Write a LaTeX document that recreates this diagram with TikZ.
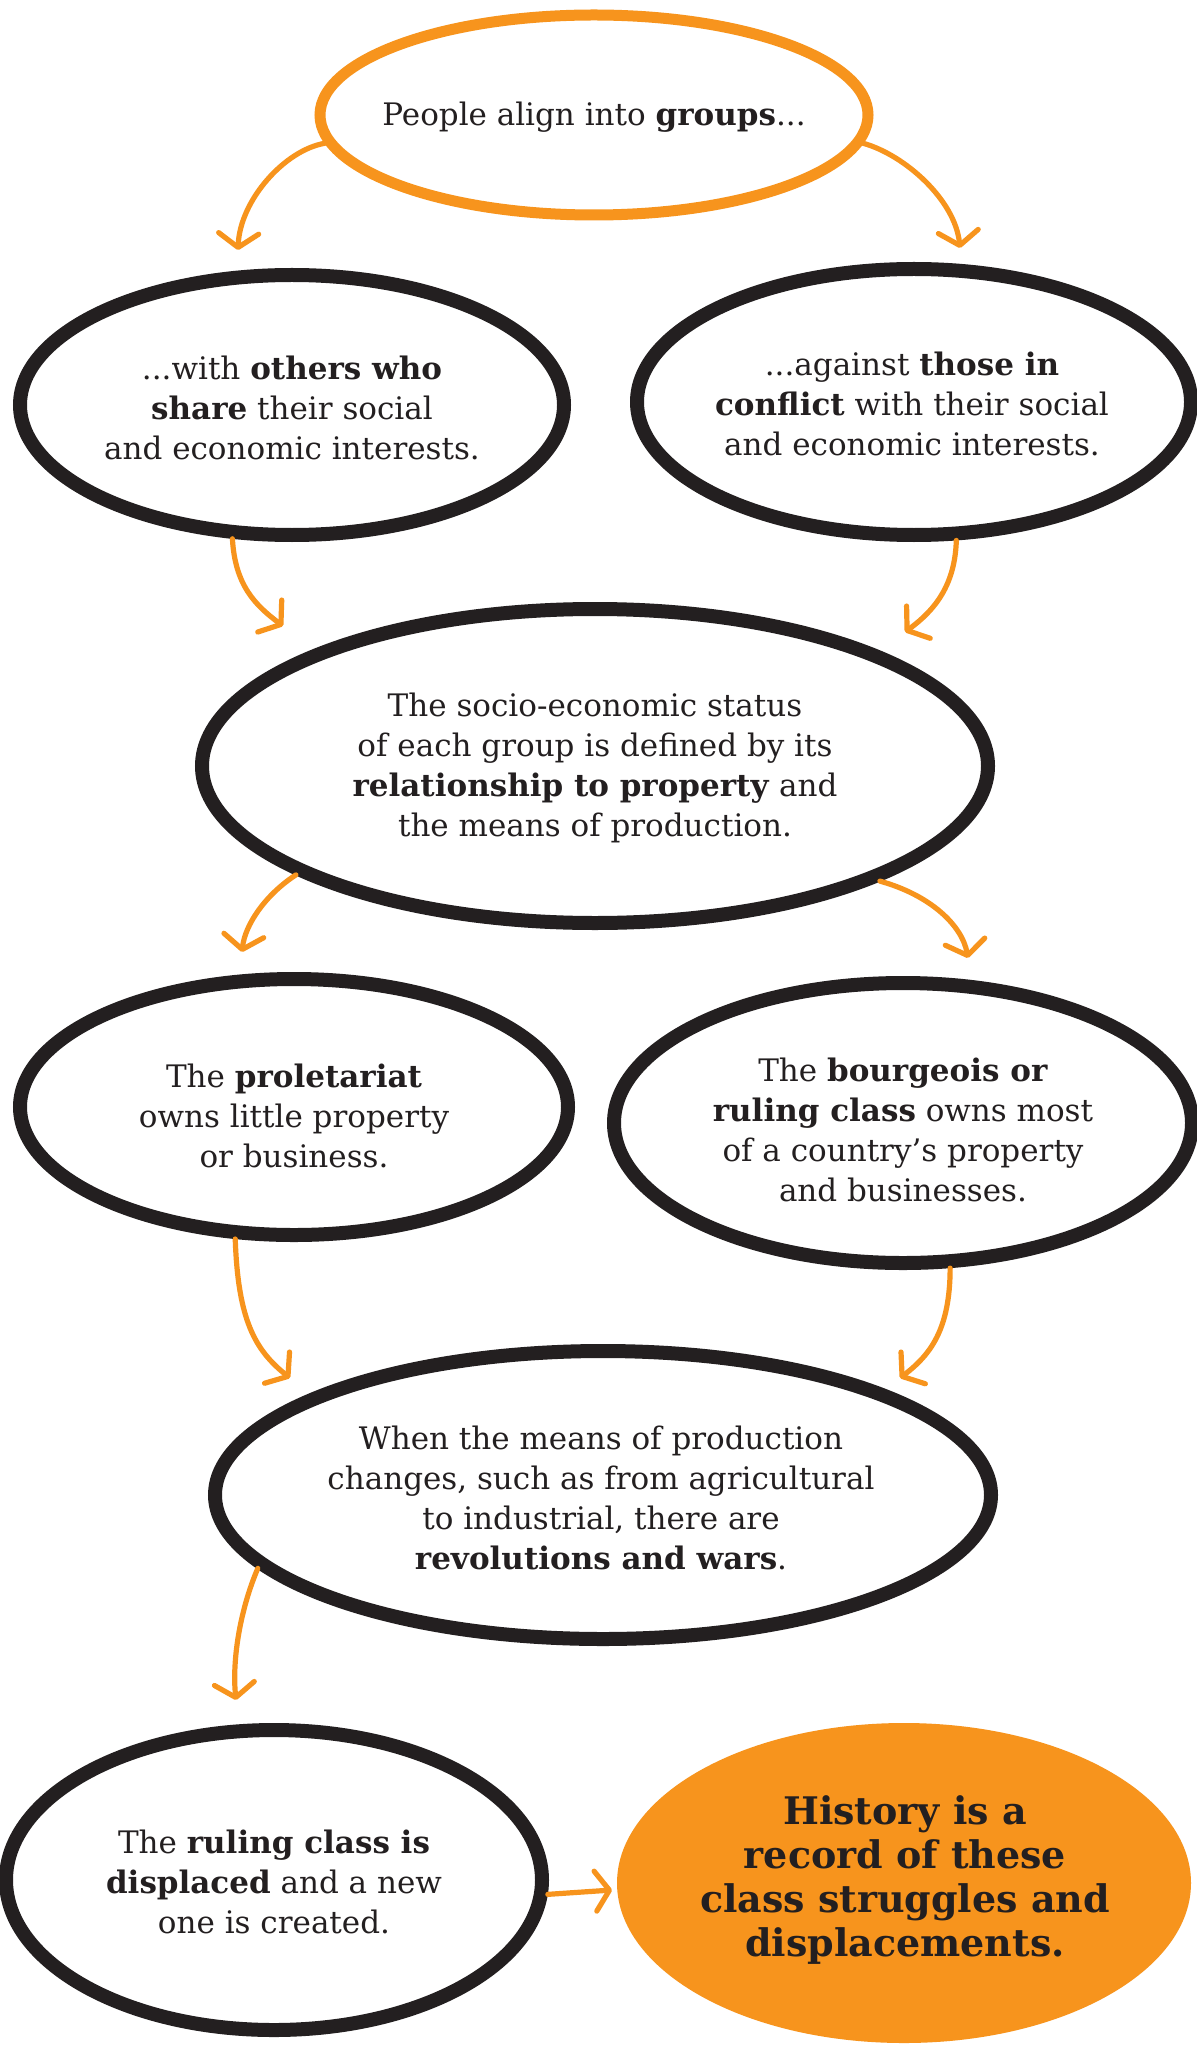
\documentclass[tikz,border=0pt]{standalone}
\usepackage{fontspec}
\setmainfont{DejaVu Serif}
\usetikzlibrary{shapes.geometric,arrows.meta}
\definecolor{ink}{HTML}{231F20}
\definecolor{org}{HTML}{F7941D}
\begin{document}
\begin{tikzpicture}[x=0.5pt,y=-0.5pt,
  bub/.style={ellipse, draw=ink, line width=7pt, inner sep=0pt},
  obub/.style={ellipse, draw=org, line width=5.5pt, inner sep=0pt},
  fbub/.style={ellipse, fill=org, inner sep=0pt},
  txt/.style={align=center, text=ink, font=\fontsize{15.5pt}{20pt}\selectfont, inner sep=0pt},
  btxt/.style={align=center, text=ink, font=\fontsize{19pt}{22pt}\selectfont\bfseries, inner sep=0pt},
  arr/.style={draw=org, line width=2.6pt, line cap=round, -{Straight Barb[length=7pt,width=20pt,round]}},
]
\fill[white] (0,0) rectangle (1196,2048);
\useasboundingbox (0,0) rectangle (1196,2048);

% bubbles
\node[obub, minimum width=274pt, minimum height=100pt] (n1) at (594,115) {};
\node[bub, minimum width=272pt, minimum height=130pt] (n2) at (292,405) {};
\node[bub, minimum width=277pt, minimum height=133pt] (n3) at (914,402) {};
\node[bub, minimum width=393pt, minimum height=157pt] (n4) at (595,766) {};
\node[bub, minimum width=274pt, minimum height=128pt] (n5) at (294,1107) {};
\node[bub, minimum width=289pt, minimum height=140pt] (n6) at (903,1123) {};
\node[bub, minimum width=388pt, minimum height=144pt] (n7) at (603,1495) {};
\node[bub, minimum width=268pt, minimum height=150pt] (n8) at (274,1880) {};
\node[fbub, minimum width=287pt, minimum height=160pt] (n9) at (904,1883) {};

% texts
\node[txt] (t1) at (594,117) {People align into \textbf{groups}...};
\node[txt] (t2) at (292,408) {...with \textbf{others who}\\ \textbf{share} their social\\ and economic interests.};
\node[txt] (t3) at (912,404) {...against \textbf{those in}\\ \textbf{conflict} with their social\\ and economic interests.};
\node[txt] (t4) at (595,768) {The socio-economic status\\ of each group is defined by its\\ \textbf{relationship to property} and\\ the means of production.};
\node[txt] (t5) at (294,1116) {The \textbf{proletariat}\\ owns little property\\ or business.};
\node[txt] (t6) at (903,1130) {The \textbf{bourgeois or}\\ \textbf{ruling class} owns most\\ of a country’s property\\ and businesses.};
\node[txt] (t7) at (601,1498) {When the means of production\\ changes, such as from agricultural\\ to industrial, there are\\ \textbf{revolutions and wars}.};
\node[txt] (t8) at (274,1882) {The \textbf{ruling class is}\\ \textbf{displaced} and a new\\ one is created.};
\node[btxt] (t9) at (905,1880) {History is a\\ record of these\\ class struggles and\\ displacements.};

% arrow ends
\coordinate (e1) at (238,250);
\coordinate (e2) at (960,248);
\coordinate (e3) at (283,626);
\coordinate (e4) at (905,632);
\coordinate (e5) at (242,952);
\coordinate (e6) at (968,958);
\coordinate (e7) at (290,1378);
\coordinate (e8) at (900,1378);
\coordinate (e9) at (236,1700);
\coordinate (e10) at (612,1890);

% arrows
\draw[arr] (n1.186) .. controls (285,150) and (240,200) .. (e1);
\draw[arr] (n1.354) .. controls (905,155) and (955,200) .. (e2);
\draw[arr] (n2.246) .. controls (235,585) and (255,605) .. (e3);
\draw[arr] (n3.-73) .. controls (955,585) and (935,610) .. (e4);
\draw[arr] (n4.200) .. controls (265,895) and (245,925) .. (e5);
\draw[arr] (n4.-22) .. controls (930,895) and (962,925) .. (e6);
\draw[arr] (n5.246) .. controls (238,1320) and (255,1350) .. (e7);
\draw[arr] (n6.-72) .. controls (950,1330) and (930,1355) .. (e8);
\draw[arr] (n7.192) .. controls (240,1610) and (232,1660) .. (e9);
\draw[arr] (n8.-3) -- (e10);
\end{tikzpicture}
\end{document}
